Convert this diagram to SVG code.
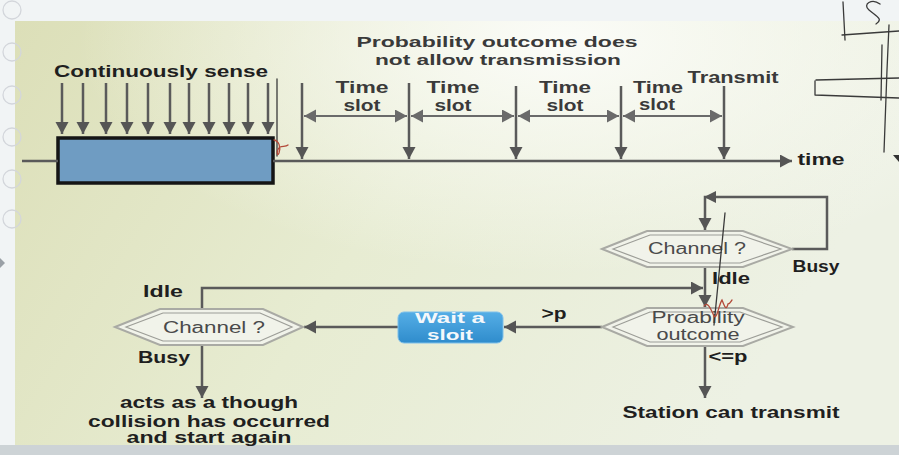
<svg xmlns="http://www.w3.org/2000/svg" width="899" height="455" viewBox="0 0 899 455">
<defs>
<linearGradient id="bg" x1="0" y1="0" x2="1" y2="0.3">
<stop offset="0" stop-color="#dcdfb8"/>
<stop offset="0.5" stop-color="#e7ecd2"/>
<stop offset="1" stop-color="#edf1e4"/>
</linearGradient>
<radialGradient id="glow" cx="0.62" cy="0.05" r="0.55">
<stop offset="0" stop-color="#fbfcf8" stop-opacity="1"/>
<stop offset="1" stop-color="#fbfcf8" stop-opacity="0"/>
</radialGradient>
<linearGradient id="btn" x1="0" y1="0" x2="0" y2="1">
<stop offset="0" stop-color="#55aee6"/>
<stop offset="1" stop-color="#2f8ccc"/>
</linearGradient>
<marker id="ah" markerUnits="userSpaceOnUse" markerWidth="14" markerHeight="14" refX="12" refY="6.5" orient="auto">
<path d="M0,0 L12,6.5 L0,13 Z" fill="#555"/>
</marker>
<marker id="ahs" markerUnits="userSpaceOnUse" markerWidth="14" markerHeight="14" refX="12" refY="6.5" orient="auto-start-reverse">
<path d="M0,0 L12,6.5 L0,13 Z" fill="#6a6a6a"/>
</marker>
</defs>
<style>
.ln{stroke:#5a5a5a;stroke-width:2.5;fill:none}
.sl{stroke:#6a6a6a;stroke-width:2;fill:none}
.b{font-family:"Liberation Sans",Arial,sans-serif;font-weight:bold;fill:#1f1f1f;text-anchor:middle}
.m{font-family:"Liberation Sans",Arial,sans-serif;font-weight:bold;fill:#3a3a3a;text-anchor:middle}
.n{font-family:"Liberation Sans",Arial,sans-serif;fill:#4a4a4a;text-anchor:middle}
.w{font-family:"Liberation Sans",Arial,sans-serif;font-weight:bold;fill:#f4f8fb;text-anchor:middle}
.hexo{fill:#f1f3ea;stroke:#a9aaa4;stroke-width:2}
.hexi{fill:none;stroke:#9c9d97;stroke-width:1.2}
.pen{fill:none;stroke:#3a3a3a;stroke-width:1.3;stroke-linecap:round}
.red{fill:none;stroke:#b34a3a;stroke-width:1.3;stroke-linecap:round}
.ui{fill:none;stroke:#d3d6db;stroke-width:1.3}
</style>

<!-- screen background -->
<rect x="0" y="0" width="899" height="455" fill="#f1f4f5"/>
<rect x="0" y="445" width="899" height="10" fill="#cdd3d6"/>
<rect x="15" y="21" width="884" height="424" fill="url(#bg)"/>
<rect x="15" y="21" width="884" height="424" fill="url(#glow)"/>

<!-- UI side icons -->
<g id="ui">
<circle cx="12" cy="10" r="9" class="ui"/>
<circle cx="12" cy="52" r="9" class="ui"/>
<circle cx="12" cy="95" r="9" class="ui"/>
<circle cx="12" cy="137" r="9" class="ui"/>
<circle cx="12" cy="179" r="9" class="ui"/>
<circle cx="12" cy="219" r="9" class="ui"/>
<path d="M0,258 L5,263 L0,268 Z" fill="#9aa0a6"/>
</g>

<!-- top timeline section -->
<g id="sense-block">
<rect x="58" y="138" width="215" height="45" fill="#6f9cc2" stroke="#151515" stroke-width="3.5"/>
<text class="b" x="161" y="77" font-size="17" textLength="214" lengthAdjust="spacingAndGlyphs">Continuously sense</text>
</g>

<g id="connectors">
<!-- sense arrows -->
<g class="ln" marker-end="url(#ah)">
<line x1="62" y1="83" x2="62" y2="134"/>
<line x1="83" y1="83" x2="83" y2="134"/>
<line x1="106" y1="83" x2="106" y2="134"/>
<line x1="127" y1="83" x2="127" y2="134"/>
<line x1="148" y1="83" x2="148" y2="134"/>
<line x1="170" y1="83" x2="170" y2="134"/>
<line x1="189" y1="83" x2="189" y2="134"/>
<line x1="209" y1="83" x2="209" y2="134"/>
<line x1="229" y1="83" x2="229" y2="134"/>
<line x1="248" y1="83" x2="248" y2="134"/>
<line x1="268" y1="83" x2="268" y2="134"/>
</g>
<!-- time axis -->
<line class="ln" x1="22" y1="161" x2="58" y2="161"/>
<line class="ln" x1="273" y1="161" x2="792" y2="161" marker-end="url(#ah)"/>
<!-- slot verticals -->
<g class="ln" marker-end="url(#ah)">
<line x1="302" y1="83" x2="302" y2="159"/>
<line x1="409" y1="83" x2="409" y2="159"/>
<line x1="516" y1="86" x2="516" y2="159"/>
<line x1="621" y1="86" x2="621" y2="159"/>
<line x1="724" y1="86" x2="724" y2="159"/>
</g>
<!-- slot double arrows -->
<g class="sl" marker-start="url(#ahs)" marker-end="url(#ahs)">
<line x1="304" y1="116" x2="407" y2="116"/>
<line x1="411" y1="116" x2="514" y2="116"/>
<line x1="518" y1="116" x2="619" y2="116"/>
<line x1="623" y1="116" x2="722" y2="116"/>
</g>

<!-- flowchart connectors -->
<path class="ln" d="M792,249 H827 V197 H705 V230" marker-end="url(#ah)"/>
<path d="M704,197 L716,191 L716,203 Z" fill="#555"/>
<line class="ln" x1="705" y1="267" x2="705" y2="307" marker-end="url(#ah)"/>
<path class="ln" d="M202,309 V288 H703" marker-end="url(#ah)"/>
<line class="ln" x1="602" y1="327" x2="504" y2="327" marker-end="url(#ah)"/>
<line class="ln" x1="398" y1="327" x2="304" y2="327" marker-end="url(#ah)"/>
<line class="ln" x1="705" y1="346" x2="705" y2="398" marker-end="url(#ah)"/>
<line class="ln" x1="202" y1="345" x2="202" y2="398" marker-end="url(#ah)"/>
</g>

<!-- timeline labels -->
<g id="labels-top">
<text class="m" x="497" y="47" font-size="15" textLength="281" lengthAdjust="spacingAndGlyphs">Probability outcome does</text>
<text class="m" x="498" y="65" font-size="15" textLength="246" lengthAdjust="spacingAndGlyphs">not allow transmission</text>
<text class="m" x="362" y="93" font-size="16" textLength="53" lengthAdjust="spacingAndGlyphs">Time</text>
<text class="m" x="362" y="111" font-size="16" textLength="37" lengthAdjust="spacingAndGlyphs">slot</text>
<text class="m" x="453" y="93" font-size="16" textLength="53" lengthAdjust="spacingAndGlyphs">Time</text>
<text class="m" x="453" y="111" font-size="16" textLength="37" lengthAdjust="spacingAndGlyphs">slot</text>
<text class="m" x="565" y="93" font-size="16" textLength="52" lengthAdjust="spacingAndGlyphs">Time</text>
<text class="m" x="565" y="111" font-size="16" textLength="37" lengthAdjust="spacingAndGlyphs">slot</text>
<text class="m" x="658" y="93" font-size="16" textLength="50" lengthAdjust="spacingAndGlyphs">Time</text>
<text class="m" x="657" y="110" font-size="16" textLength="36" lengthAdjust="spacingAndGlyphs">slot</text>
<text class="m" x="733" y="83" font-size="16" textLength="91" lengthAdjust="spacingAndGlyphs">Transmit</text>
<text class="b" x="821" y="165" font-size="16" textLength="47" lengthAdjust="spacingAndGlyphs">time</text>
</g>

<!-- flowchart nodes -->
<g id="channel-right">
<polygon class="hexo" points="602,249 647,231 743,231 792,249 743,267 647,267"/>
<polygon class="hexi" points="613,249 650,235 740,235 781,249 740,263 650,263"/>
<text class="n" x="697" y="254" font-size="16" textLength="98" lengthAdjust="spacingAndGlyphs">Channel ?</text>
</g>
<g id="probability">
<polygon class="hexo" points="602,327 647,308 743,308 793,327 743,346 647,346"/>
<polygon class="hexi" points="613,327 650,312 740,312 782,327 740,342 650,342"/>
<text class="n" x="698" y="323" font-size="16" textLength="93" lengthAdjust="spacingAndGlyphs">Proability</text>
<text class="n" x="698" y="340" font-size="16" textLength="83" lengthAdjust="spacingAndGlyphs">outcome</text>
</g>
<g id="wait">
<rect x="398" y="312" width="105" height="31" rx="6" fill="url(#btn)" stroke="#7fc0ea" stroke-width="1"/>
<text class="w" x="450" y="323" font-size="15" textLength="70" lengthAdjust="spacingAndGlyphs">Wait a</text>
<text class="w" x="450" y="340" font-size="15" textLength="46" lengthAdjust="spacingAndGlyphs">sloit</text>
</g>
<g id="channel-left">
<polygon class="hexo" points="115,327 160,309 263,309 303,327 263,345 160,345"/>
<polygon class="hexi" points="126,327 163,313 260,313 292,327 260,341 163,341"/>
<text class="n" x="214" y="333" font-size="16" textLength="102" lengthAdjust="spacingAndGlyphs">Channel ?</text>
</g>

<g id="labels-flow">
<text class="b" x="816" y="272" font-size="16" textLength="47" lengthAdjust="spacingAndGlyphs">Busy</text>
<text class="b" x="731" y="284" font-size="16" textLength="38" lengthAdjust="spacingAndGlyphs">Idle</text>
<text class="b" x="163" y="297" font-size="16" textLength="40" lengthAdjust="spacingAndGlyphs">Idle</text>
<text class="b" x="164" y="363" font-size="16" textLength="52" lengthAdjust="spacingAndGlyphs">Busy</text>
<text class="b" x="554" y="319" font-size="16" textLength="25" lengthAdjust="spacingAndGlyphs">&gt;p</text>
<text class="b" x="728" y="362" font-size="16" textLength="39" lengthAdjust="spacingAndGlyphs">&lt;=p</text>
<text class="b" x="731" y="418" font-size="16" textLength="217" lengthAdjust="spacingAndGlyphs">Station can transmit</text>
<text class="b" x="209" y="408" font-size="16" textLength="178" lengthAdjust="spacingAndGlyphs">acts as a though</text>
<text class="b" x="209" y="427" font-size="16" textLength="242" lengthAdjust="spacingAndGlyphs">collision has occurred</text>
<text class="b" x="209" y="443" font-size="16" textLength="165" lengthAdjust="spacingAndGlyphs">and start again</text>
</g>

<!-- pen annotations -->
<g id="annotations">
<path class="pen" d="M277,79 L277,156"/>
<path class="red" d="M274,140 C279,141 281,147 279,153 C277,158 276,150 280,147 C283,146 286,147 288,145"/>
<path class="pen" d="M725,213 C722,245 718,285 714,325"/>
<path class="red" d="M704,306 C708,300 712,312 714,316 C717,320 719,304 722,300 C724,305 726,312 728,304 C730,304 731,301 732,300"/>
<path class="pen" d="M843,2 L845,40"/>
<path class="pen" d="M842,35 L899,31"/>
<path class="pen" d="M880,4 C872,-2 862,4 869,10 C876,16 884,19 876,24"/>
<path class="pen" d="M889,25 L887,70 L884,152"/>
<path class="pen" d="M882,45 L881,100"/>
<path class="pen" d="M816,80 L899,78 M815,81 L815,95 M815,95 L899,98"/>
<path d="M893,155 L899,155 L899,162 Z" fill="#333"/>
</g>
</svg>
